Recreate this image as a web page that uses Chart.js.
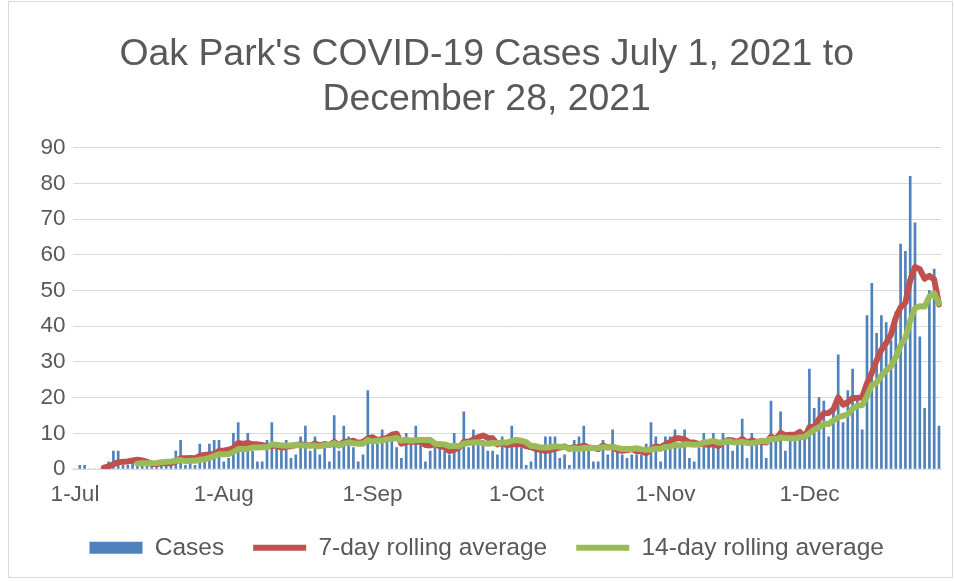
<!DOCTYPE html>
<html>
<head>
<meta charset="utf-8">
<script src="https://cdn.jsdelivr.net/npm/chart.js@4.4.1/dist/chart.umd.min.js"></script>
<style>
  html, body { margin: 0; padding: 0; background: #fff; }
  #wrap { width: 955px; height: 581px; }
</style>
</head>
<body>
<div id="wrap"><canvas id="covidChart" width="955" height="581"></canvas></div>
<script>
// daily cases, Jul 1 .. Dec 28 2021
const cases = [
  0,1,1,0,0,0,1,2,5,5, 1,1,2,2,1,2,1,1,2,2, 2,5,8,1,2,1,7,3,7,8,
  8,2,3,10,13,5,10,5,2,2, 8,13,6,5,8,3,4,9,12,5, 9,4,6,2,15,5,12,9,6,2,
  4,22,7,7,11,8,8,6,3,10, 7,12,7,2,5,6,6,5,4,10, 6,16,6,11,9,8,5,5,4,9,
  6,12,7,6,1,2,5,5,9,9, 9,3,4,1,8,9,12,5,2,2, 8,4,11,5,4,3,4,4,4,7,
  13,9,2,9,9,11,7,11,3,2, 6,10,8,10,6,10,7,5,7,14, 3,10,7,8,3,19,8,16,5,8,
  8,9,8,28,17,20,19,9,16,32, 13,22,28,19,11,43,52,38,43,41, 36,44,63,61,82,69,37,17,50,56,
  12
];

const avg7 = [
  null,null,null,null,null,null,0.4,0.7,1.3,1.9,
  2.0,2.1,2.4,2.6,2.4,2.0,1.4,1.4,1.6,1.6,
  1.6,2.1,3.0,3.0,3.1,3.0,3.7,3.9,4.1,4.1,
  5.1,5.1,5.4,5.9,7.3,7.0,7.3,6.9,6.9,6.7,
  6.4,6.4,6.6,5.9,6.3,6.4,6.7,6.9,6.7,6.6,
  7.1,6.6,7.0,6.7,7.6,6.6,7.6,7.6,7.9,7.3,
  7.6,8.6,8.9,8.1,8.4,8.7,9.6,9.9,7.1,7.6,
  7.6,7.7,7.6,6.7,6.6,7.0,6.4,6.1,5.0,5.4,
  6.0,7.6,7.6,8.3,8.9,9.4,8.7,8.6,6.9,7.3,
  6.6,7.0,6.9,7.0,6.4,6.1,5.6,5.4,5.0,5.3,
  5.7,6.0,6.3,5.7,6.1,6.1,6.6,6.0,5.9,5.6,
  6.6,6.0,6.3,5.3,5.1,5.3,5.6,5.0,5.0,4.4,
  5.6,6.3,6.1,6.9,7.6,8.6,8.6,8.3,7.4,7.4,
  7.0,7.1,6.7,7.1,6.4,7.4,8.1,8.0,7.6,8.4,
  7.4,8.0,7.6,7.7,7.4,9.1,8.3,10.1,9.4,9.6,
  9.6,10.4,8.9,11.7,11.9,14.0,15.6,15.7,16.7,20.1,
  18.0,18.7,19.9,19.9,20.1,24.0,26.9,30.4,33.4,35.3,
  37.7,42.4,45.3,46.6,52.9,56.6,56.0,53.3,54.1,53.1,
  46.1
];

const avg14 = [
  null,null,null,null,null,null,null,null,null,null,
  null,null,null,1.5,1.6,1.6,1.6,1.7,1.9,2.0,
  2.1,2.3,2.5,2.2,2.3,2.3,2.6,2.7,3.1,3.6,
  4.1,4.1,4.2,4.8,5.6,5.6,5.7,6.0,6.0,6.1,
  6.1,6.9,6.8,6.6,6.6,6.6,6.7,6.6,6.6,6.6,
  6.5,6.4,6.7,6.7,7.2,6.6,7.1,7.4,7.2,7.1,
  7.1,8.1,7.7,7.9,8.0,8.3,8.4,8.7,7.9,8.2,
  7.9,8.1,8.1,8.1,8.2,7.1,7.0,6.9,6.4,6.5,
  6.4,7.1,7.3,7.4,7.5,7.2,7.1,7.3,7.2,7.4,
  7.4,7.9,8.1,7.9,7.5,6.5,6.4,6.0,6.0,6.1,
  6.4,6.2,6.2,5.6,5.8,5.6,5.9,5.9,5.9,5.9,
  6.1,6.1,6.2,5.9,5.6,5.6,5.6,5.8,5.5,5.4,
  5.4,5.7,5.7,6.2,6.3,6.8,6.5,6.9,6.9,6.8,
  6.9,7.4,7.6,7.9,7.4,7.4,7.8,7.5,7.4,7.6,
  7.3,7.2,7.5,7.9,7.7,8.4,8.4,8.8,8.7,8.6,
  8.6,8.9,9.0,10.0,11.0,11.7,12.6,12.6,13.6,14.5,
  14.9,15.3,16.9,17.7,17.9,20.4,23.5,24.2,26.1,27.6,
  28.8,31.3,34.6,36.7,41.6,45.0,45.6,45.5,48.3,49.2,
  46.4
];

// axis labels: only the first of each month is shown
const monthTickIdx = [0, 31, 62, 92, 123, 153];
const monthTickLabels = ['1-Jul', '1-Aug', '1-Sep', '1-Oct', '1-Nov', '1-Dec'];

const monthNames = ['Jan','Feb','Mar','Apr','May','Jun','Jul','Aug','Sep','Oct','Nov','Dec'];
const dayLabels = cases.map((_, i) => {
  const d = new Date(2021, 6, 1 + i);
  return d.getDate() + '-' + monthNames[d.getMonth()];
});

const FONT = "'Liberation Sans', Arial, sans-serif";
const TEXT = '#595959';
const GRID = '#d9d9d9';

// white background + thin frame like the excel chart area
const framePlugin = {
  id: 'frame',
  beforeDraw(chart) {
    const c = chart.ctx;
    c.save();
    c.fillStyle = '#fff';
    c.fillRect(0, 0, chart.width, chart.height);
    c.strokeStyle = GRID;
    c.lineWidth = 1;
    c.strokeRect(8.5, 1.5, 944, 576);
    c.restore();
  }
};

const ctx = document.getElementById('covidChart').getContext('2d');
new Chart(ctx, {
  type: 'bar',
  data: {
    labels: dayLabels,
    datasets: [
      {
        label: 'Cases',
        data: cases,
        backgroundColor: '#4f81bd',
        borderWidth: 0,
        barThickness: 2,
        pointStyle: 'rect',
        order: 3
      },
      {
        label: '7-day rolling average',
        type: 'line',
        data: avg7,
        borderColor: '#c0504d',
        backgroundColor: '#c0504d',
        borderWidth: 6,
        borderCapStyle: 'round',
        borderJoinStyle: 'round',
        pointRadius: 0,
        pointStyle: 'line',
        tension: 0,
        order: 2
      },
      {
        label: '14-day rolling average',
        type: 'line',
        data: avg14,
        borderColor: '#9bbb59',
        backgroundColor: '#9bbb59',
        borderWidth: 6,
        borderCapStyle: 'round',
        borderJoinStyle: 'round',
        pointRadius: 0,
        pointStyle: 'line',
        tension: 0,
        order: 1
      }
    ]
  },
  options: {
    responsive: false,
    animation: false,
    // left padding is wide so title/legend centre where excel put them
    layout: { padding: { left: 32, right: 13.6, top: 4, bottom: 11 } },
    plugins: {
      tooltip: { enabled: false },
      title: {
        display: true,
        text: ["Oak Park's COVID-19 Cases July 1, 2021 to", 'December 28, 2021'],
        color: TEXT,
        font: { family: FONT, size: 37.4, weight: 'normal', lineHeight: 1.2 },
        padding: { top: 28.5, bottom: 25.5 }
      },
      legend: {
        position: 'bottom',
        labels: {
          sort: (a, b) => a.datasetIndex - b.datasetIndex,
          usePointStyle: true,
          pointStyleWidth: 53,
          boxHeight: 12,
          padding: 29,
          color: TEXT,
          font: { family: FONT, size: 24.5 }
        }
      }
    },
    scales: {
      x: {
        offset: true,
        afterFit: s => { s.height = 37.5; },
        grid: {
          display: true,
          drawOnChartArea: false,
          drawTicks: true,
          tickLength: 6,
          offset: true,
          color: c => monthTickIdx.includes(c.index) ? GRID : 'rgba(0,0,0,0)'
        },
        border: { display: true, color: GRID, width: 1 },
        ticks: {
          autoSkip: false,
          maxRotation: 0,
          padding: 6,
          color: TEXT,
          font: { family: FONT, size: 22.5 },
          callback: (val, i) => {
            const k = monthTickIdx.indexOf(i);
            return k >= 0 ? monthTickLabels[k] : null;
          }
        }
      },
      y: {
        min: 0,
        max: 90,
        afterFit: s => { s.width = 40.6; },
        grid: { color: GRID, drawTicks: false },
        border: { display: false },
        ticks: {
          stepSize: 10,
          padding: 7,
          color: TEXT,
          font: { family: FONT, size: 22.5 }
        }
      }
    }
  },
  plugins: [framePlugin]
});
</script>
</body>
</html>
